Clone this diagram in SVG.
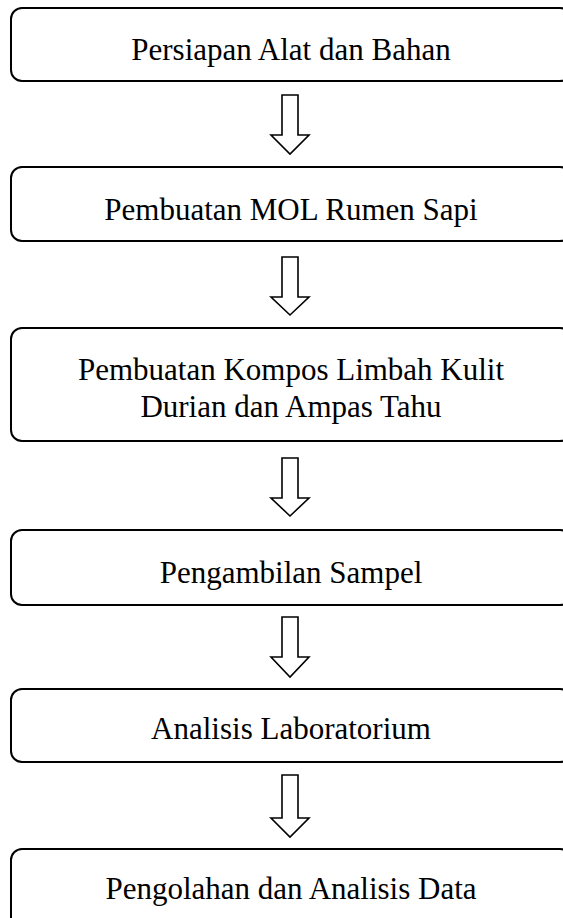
<svg xmlns="http://www.w3.org/2000/svg" width="563" height="918" viewBox="0 0 563 918">
<style>
.box{fill:#fff;stroke:#000;stroke-width:2}
.arr{fill:#fff;stroke:#000;stroke-width:1.6;stroke-linejoin:miter}
text{font-family:"Liberation Serif","Times New Roman",serif;font-size:31px;fill:#000;text-anchor:middle}
</style>
<rect width="563" height="918" fill="#fff"/>
<g id="node1"><rect class="box" x="11" y="8" width="560" height="73" rx="11"/><text x="291" y="60">Persiapan Alat dan Bahan</text></g>
<g id="node2"><rect class="box" x="11" y="167" width="560" height="74" rx="11"/><text x="291" y="220">Pembuatan MOL Rumen Sapi</text></g>
<g id="node3"><rect class="box" x="11" y="328" width="560" height="113" rx="11"/><text x="291" y="380">Pembuatan Kompos Limbah Kulit</text><text x="291" y="417">Durian dan Ampas Tahu</text></g>
<g id="node4"><rect class="box" x="11" y="530" width="560" height="75" rx="11"/><text x="291" y="583">Pengambilan Sampel</text></g>
<g id="node5"><rect class="box" x="11" y="689" width="560" height="73" rx="11"/><text x="291" y="739">Analisis Laboratorium</text></g>
<g id="node6"><rect class="box" x="11" y="849" width="560" height="100" rx="11"/><text x="291" y="899">Pengolahan dan Analisis Data</text></g>
<g id="connectors">
<path class="arr" d="M282,95 H298 V135 H309 L290,154 L271,135 H282 Z"/>
<path class="arr" d="M282,257 H298 V297 H309 L290,315 L271,297 H282 Z"/>
<path class="arr" d="M282,458 H298 V498 H309 L290,516 L271,498 H282 Z"/>
<path class="arr" d="M282,617 H298 V657 H309 L290,677 L271,657 H282 Z"/>
<path class="arr" d="M282,775 H298 V818 H309 L290,837 L271,818 H282 Z"/>
</g>
</svg>
